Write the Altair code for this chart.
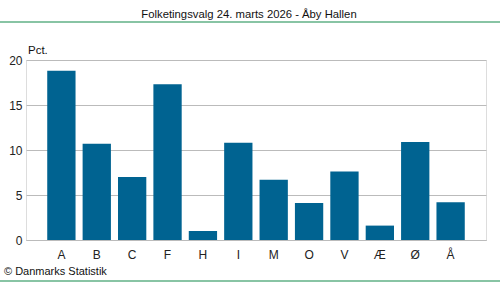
import altair as alt
import pandas as pd

parties = ["A", "B", "C", "F", "H", "I", "M", "O", "V", "Æ", "Ø", "Å"]
values = [18.8, 10.7, 7.0, 17.3, 1.0, 10.8, 6.7, 4.1, 7.6, 1.6, 10.9, 4.2]

df = pd.DataFrame({"parti": parties, "pct": values})

FONT = "Liberation Sans"
one = alt.Data(values=[{"k": 1}])

bars = alt.Chart(df).mark_bar(color="#006391").encode(
    x=alt.X("parti:N", sort=parties, title=None,
            scale=alt.Scale(paddingInner=0.2, paddingOuter=0.6),
            axis=alt.Axis(labelAngle=0, ticks=False, domain=True, domainColor="#bbbbbb",
                          labelFont=FONT, labelFontSize=12, labelColor="#222222",
                          labelPadding=9, grid=False)),
    y=alt.Y("pct:Q", title=None,
            scale=alt.Scale(domain=[0, 20], nice=False),
            axis=alt.Axis(values=[0, 5, 10, 15, 20], ticks=False, domain=False,
                          gridColor="#bbbbbb", labelFont=FONT, labelFontSize=12,
                          labelColor="#222222", labelPadding=4)),
)

title = alt.Chart(one).mark_text(font=FONT, fontSize=11.3, color="#111111", align="center", baseline="middle").encode(
    x=alt.value(223), y=alt.value(-45), text=alt.value("Folketingsvalg 24. marts 2026 - Åby Hallen"))
topline = alt.Chart(one).mark_rule(color="#128a4a", strokeWidth=1.2).encode(
    x=alt.value(-26), x2=alt.value(474), y=alt.value(-38))
botline = alt.Chart(one).mark_rule(color="#128a4a", strokeWidth=1.2).encode(
    x=alt.value(-26), x2=alt.value(474), y=alt.value(221))
pct = alt.Chart(one).mark_text(font=FONT, fontSize=11.5, color="#111111", align="left", baseline="middle").encode(
    x=alt.value(2), y=alt.value(-9), text=alt.value("Pct."))
copy = alt.Chart(one).mark_text(font=FONT, fontSize=11, color="#111111", align="left", baseline="middle").encode(
    x=alt.value(-22), y=alt.value(212), text=alt.value("© Danmarks Statistik"))

chart = alt.layer(bars, title, topline, botline, pct, copy).properties(
    width=460, height=180,
    autosize=alt.AutoSizeParams(type="none"),
    padding={"left": 26, "top": 60, "right": 14, "bottom": 42},
).configure_view(stroke=None).configure(background="white")

chart.save("out.html", embed_options={"renderer": "svg", "actions": False})
